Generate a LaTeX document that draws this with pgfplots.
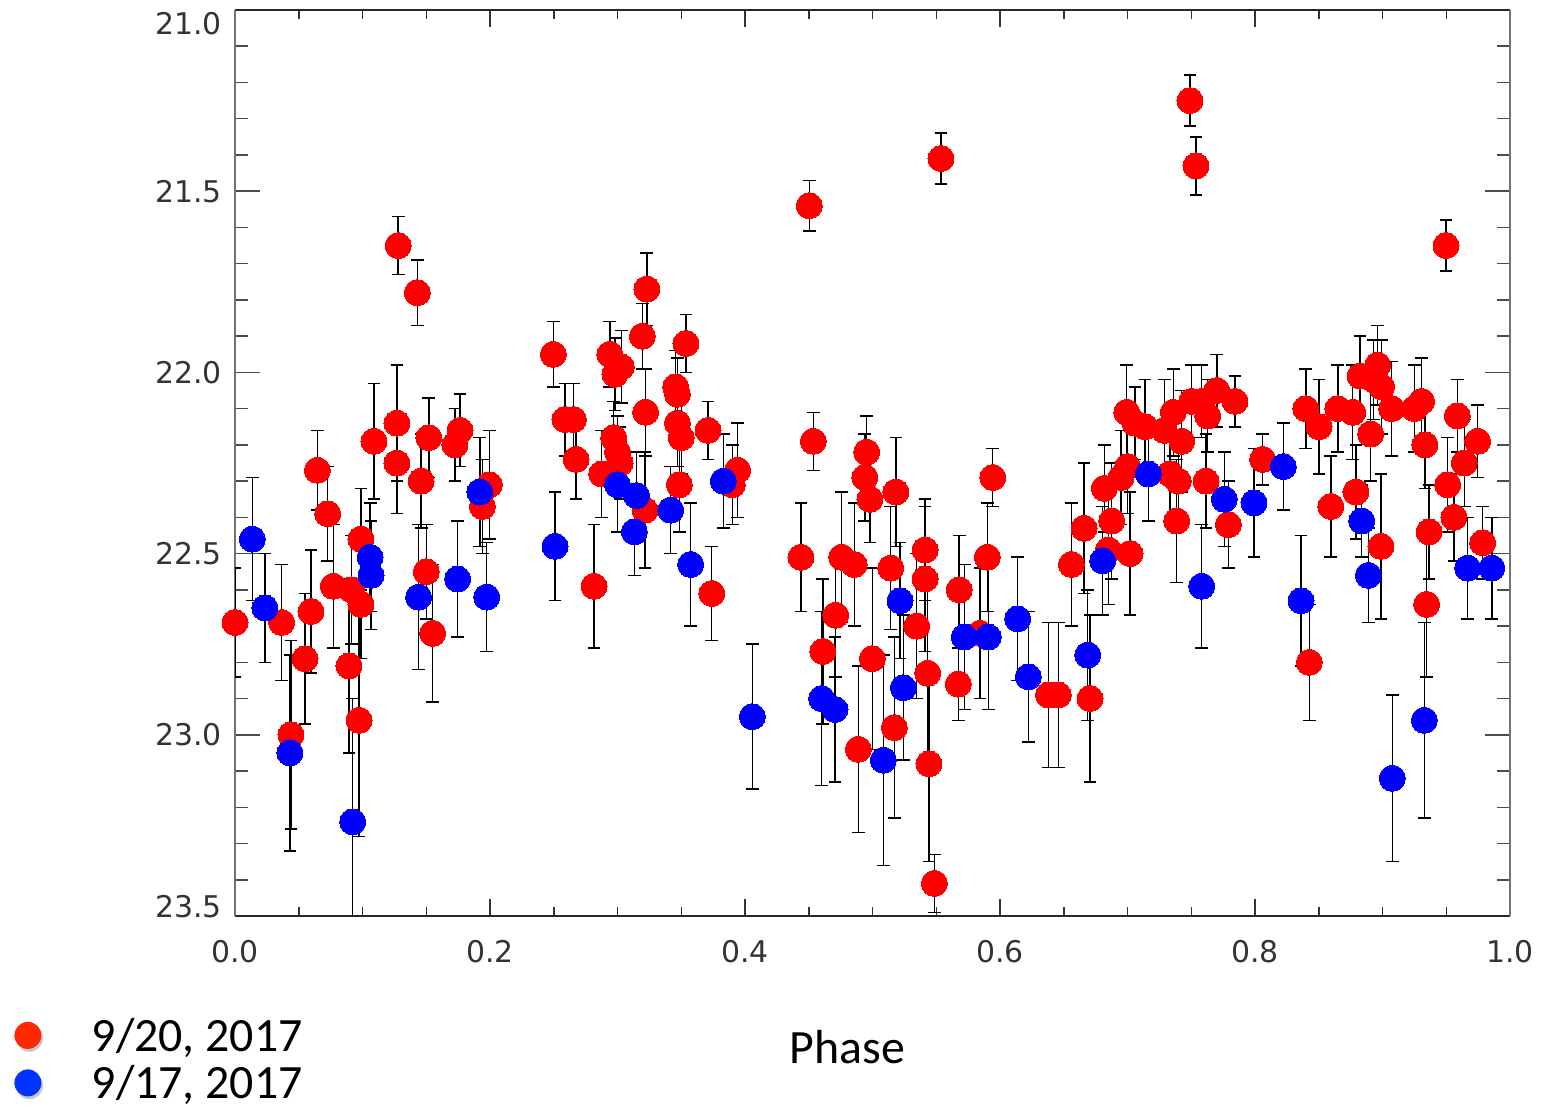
\documentclass[border=0pt]{standalone}
\usepackage{pgfplots}
\pgfplotsset{compat=1.18}
\usepackage{pgfplotstable}
\usepackage{fontspec}
\newfontfamily\carlito{Carlito}
\newfontfamily\dejavu{DejaVu Sans}
\definecolor{legred}{RGB}{255,40,0}
\definecolor{legblue}{RGB}{0,51,255}
\definecolor{ptred}{RGB}{255,0,0}
\definecolor{ptblue}{RGB}{0,0,255}
\newcommand{\yl}[2]{\smash{\raisebox{#1}{#2}}}

\pgfplotstableread{
x y e
0.000 22.69 0.15
0.0366 22.69 0.16
0.0439 23.00 0.26
0.0549 22.79 0.18
0.0596 22.66 0.17
0.0646 22.27 0.11
0.0727 22.39 0.13
0.0771 22.59 0.17
0.0894 22.81 0.24
0.0915 22.60 0.15
0.0973 22.96 0.32
0.0988 22.46 0.14
0.0988 22.64 0.15
0.109 22.19 0.16
0.127 22.14 0.16
0.127 22.25 0.14
0.128 21.65 0.08
0.143 21.78 0.09
0.146 22.30 0.13
0.150 22.55 0.13
0.152 22.18 0.11
0.155 22.72 0.19
0.1725 22.20 0.10
0.1765 22.16 0.10
0.194 22.37 0.13
0.1995 22.31 0.15
0.2497 21.95 0.09
0.2588 22.13 0.10
0.2654 22.13 0.10
0.2675 22.24 0.11
0.2816 22.59 0.17
0.2876 22.28 0.12
0.294 21.95 0.09
0.297 22.18 0.10
0.300 22.22 0.10
0.302 22.25 0.10
0.303 21.985 0.10
0.298 22.005 0.10
0.3195 21.90 0.09
0.3216 22.38 0.16
0.322 22.11 0.12
0.323 21.77 0.10
0.3456 22.04 0.10
0.347 22.06 0.10
0.347 22.14 0.12
0.3485 22.31 0.13
0.350 22.18 0.10
0.3537 21.92 0.08
0.371 22.16 0.08
0.3739 22.61 0.13
0.390 22.31 0.11
0.3942 22.27 0.13
0.4439 22.51 0.15
0.4504 21.54 0.07
0.4536 22.19 0.08
0.461 22.77 0.20
0.4711 22.67 0.17
0.4758 22.51 0.18
0.4857 22.53 0.17
0.4889 23.04 0.23
0.4940 22.29 0.12
0.4954 22.22 0.10
0.498 22.35 0.12
0.4999 22.79 0.25
0.5143 22.54 0.17
0.5171 22.98 0.25
0.5184 22.33 0.15
0.5346 22.70 0.20
0.5412 22.49 0.14
0.5412 22.57 0.20
0.5433 22.83 0.25
0.5443 23.08 0.27
0.5485 23.41 0.08
0.5537 21.41 0.07
0.5673 22.86 0.10
0.568 22.60 0.15
0.5843 22.72 0.18
0.590 22.51 0.15
0.5943 22.29 0.08
0.638 22.89 0.20
0.6457 22.89 0.20
0.656 22.53 0.17
0.6659 22.43 0.18
0.6706 22.90 0.23
0.6818 22.32 0.12
0.685 22.49 0.15
0.6876 22.41 0.16
0.6949 22.29 0.13
0.6994 22.11 0.13
0.7001 22.26 0.13
0.702 22.50 0.17
0.7059 22.14 0.10
0.7137 22.15 0.13
0.7289 22.16 0.14
0.7333 22.28 0.12
0.7359 22.11 0.12
0.7386 22.41 0.17
0.7398 22.30 0.12
0.7425 22.19 0.14
0.749 21.25 0.07
0.7503 22.08 0.10
0.7537 21.43 0.08
0.7582 22.08 0.10
0.7616 22.30 0.13
0.7629 22.12 0.10
0.770 22.05 0.10
0.7791 22.42 0.12
0.7843 22.08 0.07
0.806 22.24 0.07
0.8398 22.10 0.11
0.8426 22.80 0.16
0.8502 22.15 0.13
0.8595 22.37 0.14
0.8649 22.10 0.12
0.8766 22.11 0.13
0.8792 22.33 0.13
0.8824 22.01 0.11
0.8907 22.17 0.13
0.893 22.02 0.11
0.8962 21.98 0.11
0.8988 22.48 0.20
0.8993 22.04 0.13
0.9072 22.10 0.13
0.925 22.10 0.12
0.9307 22.08 0.12
0.9333 22.20 0.12
0.9346 22.64 0.20
0.9365 22.44 0.13
0.9498 21.65 0.07
0.9511 22.31 0.13
0.956 22.40 0.12
0.9587 22.12 0.10
0.9642 22.25 0.12
0.9746 22.19 0.10
0.9786 22.47 0.10
}\redtable

\pgfplotstableread{
x y e
0.0136 22.46 0.17
0.0235 22.65 0.15
0.0431 23.05 0.27
0.0923 23.24 0.34
0.106 22.51 0.15
0.1067 22.56 0.15
0.144 22.62 0.20
0.1746 22.57 0.16
0.192 22.33 0.15
0.1974 22.62 0.15
0.251 22.48 0.15
0.300 22.31 0.13
0.3132 22.44 0.12
0.315 22.34 0.12
0.3417 22.38 0.12
0.3574 22.53 0.17
0.383 22.30 0.13
0.4058 22.95 0.20
0.4601 22.90 0.24
0.4706 22.93 0.20
0.5085 23.07 0.29
0.5216 22.63 0.16
0.5242 22.87 0.20
0.572 22.73 0.20
0.5908 22.73 0.20
0.6139 22.68 0.17
0.6222 22.84 0.18
0.6688 22.78 0.18
0.6805 22.52 0.15
0.7163 22.28 0.13
0.7582 22.59 0.17
0.7759 22.35 0.13
0.7992 22.36 0.15
0.8222 22.26 0.12
0.8361 22.63 0.18
0.8837 22.41 0.10
0.8889 22.56 0.13
0.9077 23.12 0.23
0.9328 22.96 0.27
0.9668 22.54 0.14
0.9857 22.54 0.14
}\bluetable

\begin{document}
\begin{tikzpicture}
\path[use as bounding box] (0,0) rectangle (772.5bp,555bp);
\begin{axis}[
  at={(117.5bp,97bp)}, anchor=south west,
  scale only axis, width=637.5bp, height=453bp,
  xmin=0, xmax=1, ymin=21, ymax=23.5, y dir=reverse,
  separate axis lines,
  x axis line style={black!85, line width=1bp},
  y axis line style={black!55, line width=1bp},
  tick align=inside,
  xtick={0,0.2,0.4,0.6,0.8,1},
  xticklabels={0.0,0.2,0.4,0.6,0.8,1.0},
  minor x tick num=3,
  ytick={21,21.5,22,22.5,23,23.5},
  yticklabels={\yl{-12bp}{21.0},\yl{-5.5bp}{21.5},\yl{-5.5bp}{22.0},\yl{-5.5bp}{22.5},\yl{-5.5bp}{23.0},\yl{-0.5bp}{23.5}},
  minor y tick num=4,
  major tick length=12.5bp, minor tick length=6.5bp,
  xtick style={/pgfplots/major tick length=8.5bp,/pgfplots/minor tick length=4.5bp, black!80, line width=0.75bp},
  ytick style={black!70, line width=0.75bp},
  tick label style={font=\dejavu\fontsize{15}{15}\selectfont, text=black!80, inner sep=0pt},
  xticklabel style={anchor=north, yshift=-12bp},
  yticklabel style={anchor=east, xshift=-6.5bp},
  xlabel={Phase},
  xlabel style={font=\carlito\fontsize{24}{24}\selectfont, at={(axis description cs:0.4804,-0.16225)}, anchor=base, inner sep=0pt},
  legend style={at={(axis description cs:-0.17397,-0.11402)}, anchor=north west, draw=none, fill=white, inner sep=0pt, column sep=24.4bp,
    nodes={inner sep=0pt, text height=15.7bp, text depth=8.05bp, font=\carlito\fontsize{24}{24}\selectfont}},
  legend cell align=left,
]
\addlegendimage{only marks, mark=*, mark size=6.75bp, mark options={draw=legred, fill=legred},
  legend image code/.code={
    \path (0.3cm+0.8bp,2.6bp) node[circle, inner sep=0pt, minimum size=13.5bp, fill=black!22, text height=0pt, text depth=0pt] {};
    \path (0.3cm,4.025bp) node[circle, inner sep=0pt, minimum size=13.5bp, fill=legred, text height=0pt, text depth=0pt] {};}}
\addlegendentry{9/20, 2017}
\addlegendimage{only marks, mark=*, mark size=6.75bp, mark options={draw=legblue, fill=legblue},
  legend image code/.code={
    \path (0.3cm+0.8bp,2.6bp) node[circle, inner sep=0pt, minimum size=13.5bp, fill=black!22, text height=0pt, text depth=0pt] {};
    \path (0.3cm,4.025bp) node[circle, inner sep=0pt, minimum size=13.5bp, fill=legblue, text height=0pt, text depth=0pt] {};}}
\addlegendentry{9/17, 2017}
\addplot[color=ptred, only marks, mark=*, mark size=6.5bp, mark options={draw=ptred, fill=ptred, line width=0pt},
  error bars/.cd, y dir=both, y explicit,
  error bar style={line width=0.75bp, black},
  error mark options={rotate=90, mark size=3.2bp, line width=0.75bp, black}]
  table[x=x, y=y, y error=e] {\redtable};
\addplot[color=ptblue, only marks, mark=*, mark size=6.5bp, mark options={draw=ptblue, fill=ptblue, line width=0pt},
  error bars/.cd, y dir=both, y explicit,
  error bar style={line width=0.75bp, black},
  error mark options={rotate=90, mark size=3.2bp, line width=0.75bp, black}]
  table[x=x, y=y, y error=e] {\bluetable};
\end{axis}
\end{tikzpicture}
\end{document}
